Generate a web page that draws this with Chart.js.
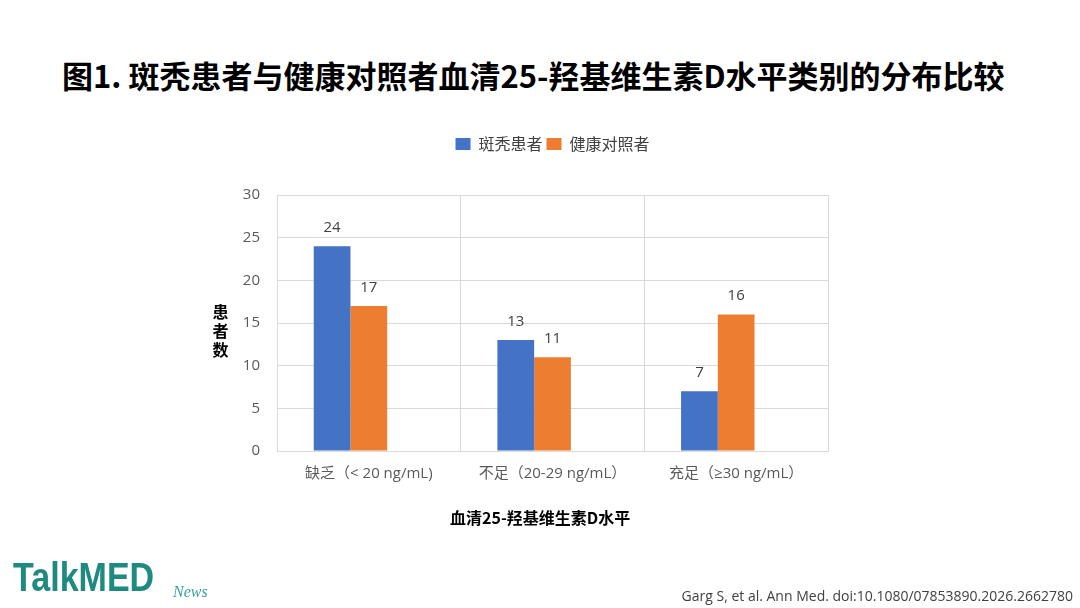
<!DOCTYPE html>
<html>
<head>
<meta charset="utf-8">
<script src="https://cdn.jsdelivr.net/npm/chart.js@4.4.1/dist/chart.umd.min.js"></script>
<style>
  html, body { margin: 0; padding: 0; background: #fff; }
  body { width: 1080px; height: 608px; position: relative; overflow: hidden; font-family: "Noto Sans CJK SC", sans-serif; }
  #chart { position: absolute; left: 0; top: 0; }
  .title { position: absolute; left: 62px; top: 59px; font-size: 31px; line-height: 31px; font-weight: 700; color: #000; white-space: nowrap; }
  .ytitle { position: absolute; left: 210px; top: 302px; width: 21px; text-align: center; font-size: 16px; line-height: 19px; font-weight: 700; color: #000; }
  .xtitle { position: absolute; left: 450px; top: 509px; font-size: 16px; line-height: 16px; font-weight: 700; color: #000; white-space: nowrap; }
  .logo { position: absolute; left: 13px; top: 557px; font-family: "Liberation Sans", sans-serif; font-weight: 700; font-size: 41px; line-height: 41px; color: #1e8a80; white-space: nowrap; transform: scaleX(0.83); transform-origin: 0 0; }
  .news { position: absolute; left: 173px; top: 584px; font-family: "Liberation Serif", serif; font-style: italic; font-size: 16px; line-height: 16px; color: #3aa39b; }
  .cite { position: absolute; right: 7px; top: 589px; font-family: "Open Sans", sans-serif; font-size: 14px; line-height: 14px; color: #404040; white-space: nowrap; }
</style>
</head>
<body>
<div class="title">图1. 斑秃患者与健康对照者血清25-羟基维生素D水平类别的分布比较</div>
<canvas id="chart" width="1080" height="608"></canvas>
<div class="ytitle">患<br>者<br>数</div>
<div class="xtitle">血清25-羟基维生素D水平</div>
<div class="logo">TalkMED</div>
<div class="news">News</div>
<div class="cite">Garg S, et al. Ann Med. doi:10.1080/07853890.2026.2662780</div>

<script>
var categories = ['缺乏（< 20 ng/mL)', '不足（20-29 ng/mL）', '充足（≥30 ng/mL）'];
var seriesNames = ['斑秃患者', '健康对照者'];
var patientValues = [24, 13, 7];
var controlValues = [17, 11, 16];
// empty third slot, the original chart keeps room for it in each group
var spacerValues = [null, null, null];
var yTicks = [0, 5, 10, 15, 20, 25, 30];

var tickFont = { family: '"Open Sans", "Noto Sans CJK SC", sans-serif', size: 15 };

// legend box is pushed up, extra height leaves the gap above the plot
var legendGap = {
  id: 'legendGap',
  beforeLayout: function (chart) {
    if (chart.legend && !chart.legend._gapPatched) {
      var fit = chart.legend.fit;
      chart.legend.fit = function () {
        fit.call(this);
        this.height = 63;
      };
      chart.legend._gapPatched = true;
    }
  }
};

var valueLabels = {
  id: 'valueLabels',
  afterDatasetsDraw: function (chart) {
    var ctx = chart.ctx;
    ctx.save();
    ctx.font = '15px "Open Sans", sans-serif';
    ctx.fillStyle = '#404040';
    ctx.textAlign = 'center';
    ctx.textBaseline = 'alphabetic';
    [0, 1].forEach(function (i) {
      var meta = chart.getDatasetMeta(i);
      meta.data.forEach(function (bar, j) {
        ctx.fillText(chart.data.datasets[i].data[j], bar.x, bar.y - 14);
      });
    });
    ctx.restore();
  }
};

new Chart(document.getElementById('chart'), {
  type: 'bar',
  data: {
    labels: categories,
    datasets: [{
      label: seriesNames[0],
      data: patientValues,
      backgroundColor: '#4472C4',
    }, {
      label: seriesNames[1],
      data: controlValues,
      backgroundColor: '#ED7D31',
    }, {
      label: '',
      data: spacerValues,
      backgroundColor: 'rgba(0,0,0,0)',
    }],
  },
  options: {
    responsive: false,
    animation: false,
    layout: { padding: { left: 237, right: 252, top: 132, bottom: 97 } },
    datasets: { bar: { categoryPercentage: 0.6, barPercentage: 1 } },
    plugins: {
      tooltip: { enabled: false },
      legend: {
        position: 'top',
        fullSize: false,
        labels: {
          boxWidth: 15,
          boxHeight: 12,
          padding: 4,
          color: '#404040',
          font: { family: '"Noto Sans CJK SC", sans-serif', size: 16 },
          filter: function (item) { return item.datasetIndex < 2; },
        },
      },
    },
    scales: {
      x: {
        grid: { color: '#d9d9d9', drawTicks: false },
        border: { color: '#d9d9d9' },
        ticks: { color: '#595959', font: tickFont, padding: 14, maxRotation: 0 },
        afterFit: function (scale) { scale.height = 60; },
      },
      y: {
        min: 0,
        max: 30,
        grid: { color: '#d9d9d9', drawTicks: false },
        border: { color: '#d9d9d9' },
        afterBuildTicks: function (scale) {
          scale.ticks = yTicks.map(function (v) { return { value: v }; });
        },
        ticks: { color: '#595959', font: tickFont, padding: 17 },
        afterFit: function (scale) { scale.width = 40; },
      },
    },
  },
  plugins: [legendGap, valueLabels],
});
</script>
</body>
</html>
